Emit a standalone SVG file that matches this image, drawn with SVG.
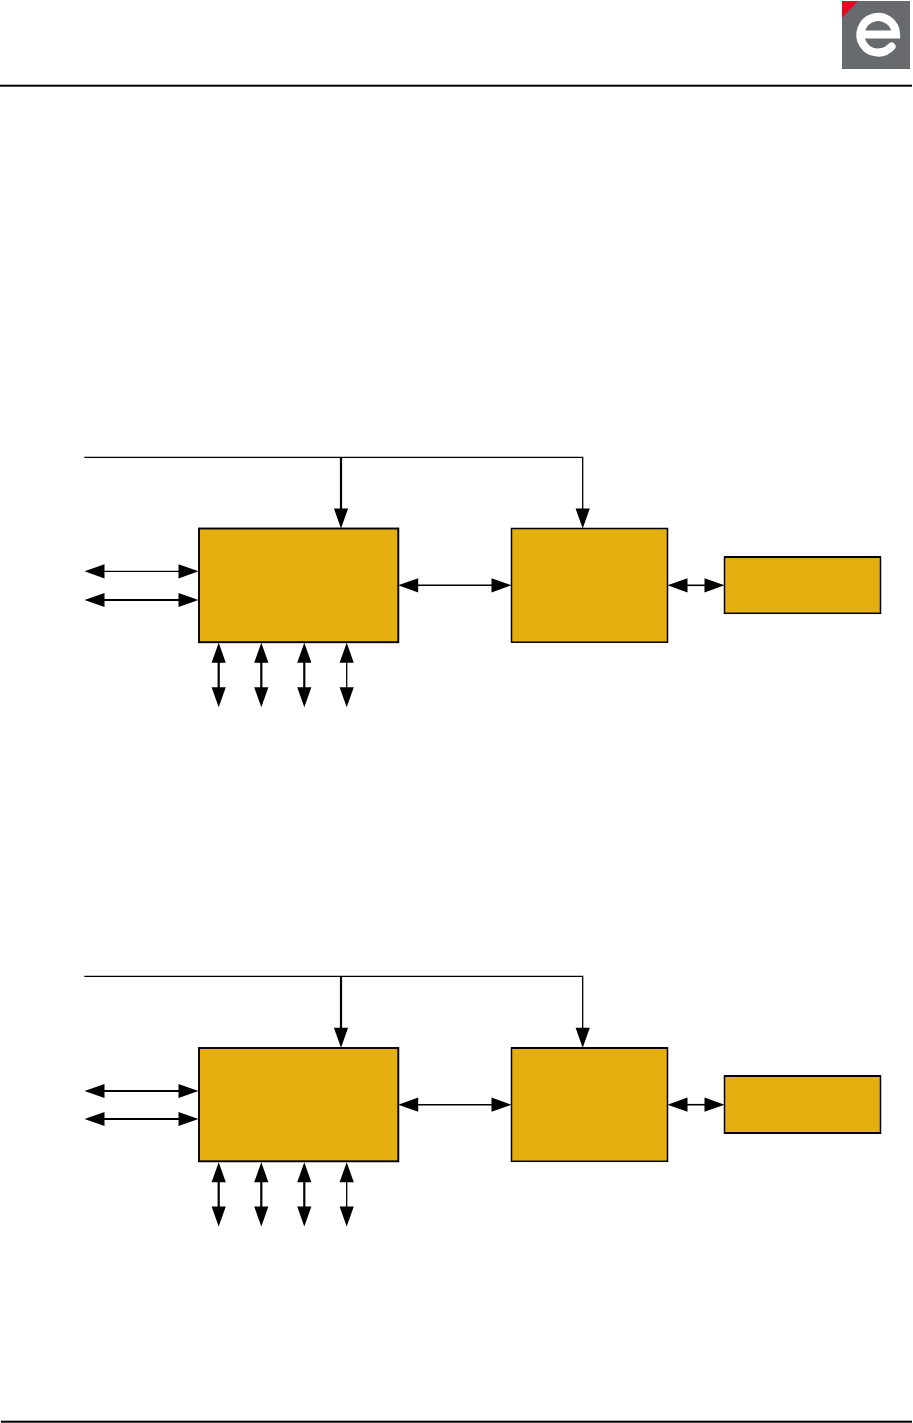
<svg xmlns="http://www.w3.org/2000/svg" width="913" height="1423" viewBox="0 0 913 1423">
<style>
.box{fill:#e6af10;stroke:#000;stroke-width:1.5}
.main{stroke-width:1.9}
.edge{fill:none;stroke:#000;stroke-width:2.2}
.w{fill:none;stroke:#000;stroke-width:1.3}
.m{fill:none;stroke:#000;stroke-width:1.6}
.t{fill:none;stroke:#000;stroke-width:2.2}
.h{fill:#000;stroke:none}
</style>
<defs>
<polygon id="hr" class="h" points="0.5,0 -19.5,-7.1 -19.5,7.1"/>
</defs>
<rect width="913" height="1423" fill="#fff"/>
<g id="header">
<rect x="0" y="84.7" width="912" height="2" fill="#000"/>
<g id="logo">
<rect x="842" y="1" width="68" height="68" fill="#676b6e"/>
<polygon points="842,1 858,1 842,18" fill="#e30a24"/>
<path d="M861 34.5H896A17.8 17.8 0 1 0 891.5 46.6" fill="none" stroke="#fff" stroke-width="8.2" stroke-linecap="round"/>
</g>
</g>
<rect id="footer" x="1" y="1420.7" width="911" height="2" fill="#000"/>
<g id="connectors">
<path class="w" d="M84.3 457.3H582.7V510"/>
<path class="t" d="M341 457.3V510"/>
<path class="w" d="M100 571.3H182"/>
<path class="t" d="M100 600H182"/>
<path class="m" d="M412 585.3H495"/>
<path class="m" d="M682 585.3H710"/>
<path class="t" d="M218.7 658V692"/>
<path class="t" d="M261.3 658V692"/>
<path class="t" d="M304.3 658V692"/>
<path class="w" d="M346.7 658V692"/>
<use href="#hr" transform="translate(341 528) rotate(90)"/>
<use href="#hr" transform="translate(582.7 528) rotate(90)"/>
<use href="#hr" transform="translate(198 571.3)"/>
<use href="#hr" transform="translate(85 571.3) rotate(180)"/>
<use href="#hr" transform="translate(198 600)"/>
<use href="#hr" transform="translate(85 600) rotate(180)"/>
<use href="#hr" transform="translate(511 585.3)"/>
<use href="#hr" transform="translate(398.7 585.3) rotate(180)"/>
<use href="#hr" transform="translate(724 585.3)"/>
<use href="#hr" transform="translate(668 585.3) rotate(180)"/>
<use href="#hr" transform="translate(218.7 643.3) rotate(-90)"/>
<use href="#hr" transform="translate(218.7 706.7) rotate(90)"/>
<use href="#hr" transform="translate(261.3 643.3) rotate(-90)"/>
<use href="#hr" transform="translate(261.3 706.7) rotate(90)"/>
<use href="#hr" transform="translate(304.3 643.3) rotate(-90)"/>
<use href="#hr" transform="translate(304.3 706.7) rotate(90)"/>
<use href="#hr" transform="translate(346.7 643.3) rotate(-90)"/>
<use href="#hr" transform="translate(346.7 706.7) rotate(90)"/>

<path class="w" d="M84.3 976.3H582.7V1030"/>
<path class="t" d="M341 976.3V1030"/>
<path class="t" d="M100 1091H182"/>
<path class="t" d="M100 1119H182"/>
<path class="m" d="M412 1104.7H495"/>
<path class="m" d="M682 1104.7H710"/>
<path class="t" d="M218.7 1178V1212"/>
<path class="t" d="M261.3 1178V1212"/>
<path class="t" d="M304.3 1178V1212"/>
<path class="w" d="M346.7 1178V1212"/>
<use href="#hr" transform="translate(341 1047.3) rotate(90)"/>
<use href="#hr" transform="translate(582.7 1047.3) rotate(90)"/>
<use href="#hr" transform="translate(198 1091)"/>
<use href="#hr" transform="translate(85 1091) rotate(180)"/>
<use href="#hr" transform="translate(198 1119)"/>
<use href="#hr" transform="translate(85 1119) rotate(180)"/>
<use href="#hr" transform="translate(511 1104.7)"/>
<use href="#hr" transform="translate(398.7 1104.7) rotate(180)"/>
<use href="#hr" transform="translate(724 1104.7)"/>
<use href="#hr" transform="translate(668 1104.7) rotate(180)"/>
<use href="#hr" transform="translate(218.7 1162.7) rotate(-90)"/>
<use href="#hr" transform="translate(218.7 1226) rotate(90)"/>
<use href="#hr" transform="translate(261.3 1162.7) rotate(-90)"/>
<use href="#hr" transform="translate(261.3 1226) rotate(90)"/>
<use href="#hr" transform="translate(304.3 1162.7) rotate(-90)"/>
<use href="#hr" transform="translate(304.3 1226) rotate(90)"/>
<use href="#hr" transform="translate(346.7 1162.7) rotate(-90)"/>
<use href="#hr" transform="translate(346.7 1226) rotate(90)"/>
</g>
<g id="node-a1"><rect class="box main" x="199" y="528.5" width="199.3" height="113.7"/></g>
<g id="node-b1"><rect class="box" x="511.5" y="528.5" width="156" height="113.7"/></g>
<g id="node-c1"><rect class="box" x="724.5" y="557.3" width="156" height="56"/><path class="edge" d="M724 557H881"/></g>
<g id="node-a2"><rect class="box main" x="199" y="1048" width="199.3" height="113.3"/></g>
<g id="node-b2"><rect class="box" x="511.5" y="1048" width="156" height="113.3"/><path class="edge" d="M511 1048H668"/></g>
<g id="node-c2"><rect class="box" x="724.5" y="1076" width="156" height="57"/><path class="edge" d="M724 1076H881M724 1133H881"/></g>
</svg>
